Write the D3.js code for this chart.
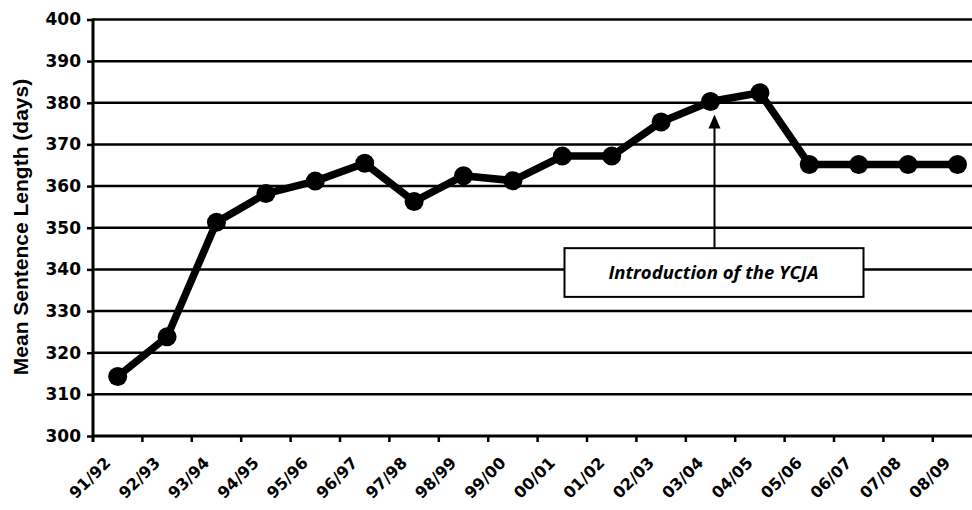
<!DOCTYPE html>
<html>
<head>
<meta charset="utf-8">
<script src="https://cdn.jsdelivr.net/npm/d3@7"></script>
<style>
  body { margin: 0; background: #fff; }
  svg { display: block; }
</style>
</head>
<body>
<div id="chart"></div>
<script>
// data
const years = ["91/92", "92/93", "93/94", "94/95", "95/96", "96/97", "97/98", "98/99", "99/00",
    "00/01", "01/02", "02/03", "03/04", "04/05", "05/06", "06/07", "07/08", "08/09"];
const meanLength = [314.3, 323.8, 351.3, 358.2, 361.2, 365.5, 356.3, 362.5, 361.3,
    367.2, 367.2, 375.4, 380.3, 382.4, 365.2, 365.2, 365.2, 365.2];
const yTicks = [300, 310, 320, 330, 340, 350, 360, 370, 380, 390, 400];
const noteText = "Introduction of the YCJA";
const noteYear = "03/04";

const width = 972;
const height = 510;
const plotLeft = 93;
const plotTop = 19.5;
const plotBottom = 436;
const step = 49.4;

const x = d3.scaleBand()
    .domain(years)
    .range([plotLeft, plotLeft + step * years.length]);
const y = d3.scaleLinear()
    .domain([300, 400])
    .range([plotBottom, plotTop]);

const svg = d3.select("#chart")
    .append("svg")
    .attr("width", width)
    .attr("height", height);

// horizontal gridlines
svg.append("g")
    .selectAll("line")
    .data(yTicks.slice(1))
    .enter()
    .append("line")
    .attr("x1", plotLeft)
    .attr("x2", width)
    .attr("y1", d => y(d))
    .attr("y2", d => y(d))
    .style("stroke", "#000")
    .style("stroke-width", 2.5);

// y axis
const yAxis = d3.axisLeft(y)
    .tickValues(yTicks)
    .tickSize(6)
    .tickPadding(6);
const gy = svg.append("g")
    .attr("transform", `translate(${plotLeft},0)`)
    .call(yAxis);
gy.select(".domain").remove();
gy.selectAll(".tick line").style("stroke", "#000").style("stroke-width", 2.5);
gy.selectAll(".tick text")
    .style("font-family", "'DejaVu Sans', sans-serif")
    .style("font-weight", "bold")
    .style("font-size", "17px")
    .style("fill", "#000");
svg.append("line")
    .attr("x1", plotLeft).attr("x2", plotLeft)
    .attr("y1", plotTop - 1).attr("y2", plotBottom + 6)
    .style("stroke", "#000")
    .style("stroke-width", 3);

// x axis line and ticks at category boundaries
svg.append("line")
    .attr("x1", plotLeft).attr("x2", width)
    .attr("y1", plotBottom).attr("y2", plotBottom)
    .style("stroke", "#000")
    .style("stroke-width", 3);
svg.append("g")
    .selectAll("line")
    .data(years)
    .enter()
    .append("line")
    .attr("x1", d => x(d) + x.bandwidth())
    .attr("x2", d => x(d) + x.bandwidth())
    .attr("y1", plotBottom)
    .attr("y2", plotBottom + 6)
    .style("stroke", "#000")
    .style("stroke-width", 2.5);

// x labels rotated
svg.append("g")
    .selectAll("text")
    .data(years)
    .enter()
    .append("text")
    .attr("transform", d => `translate(${x(d) + x.bandwidth() / 2 - 14},${plotBottom + 20}) rotate(-45)`)
    .attr("text-anchor", "end")
    .attr("dy", "0.7em")
    .style("font-family", "'DejaVu Sans', sans-serif")
    .style("font-weight", "bold")
    .style("font-size", "16px")
    .text(d => d);

// y title
svg.append("text")
    .attr("transform", "translate(28,227) rotate(-90)")
    .attr("text-anchor", "middle")
    .style("font-family", "'Liberation Sans', Arial, sans-serif")
    .style("font-weight", "bold")
    .style("font-size", "21px")
    .text("Mean Sentence Length (days)");

// line and markers
const pts = years.map((d, i) => ({ year: d, value: meanLength[i] }));
const line = d3.line()
    .x(d => x(d.year) + x.bandwidth() / 2)
    .y(d => y(d.value));
svg.append("path")
    .datum(pts)
    .attr("d", line)
    .style("fill", "none")
    .style("stroke", "#000")
    .style("stroke-width", 7.5)
    .style("stroke-linejoin", "round");
svg.append("g")
    .selectAll("circle")
    .data(pts)
    .enter()
    .append("circle")
    .attr("cx", d => x(d.year) + x.bandwidth() / 2)
    .attr("cy", d => y(d.value))
    .attr("r", 9.5)
    .style("fill", "#000");

// annotation: arrow + box
const ax = x(noteYear) + x.bandwidth() / 2 + 4;
const boxTop = y(345.1);
const boxBottom = y(333.4);
const tipY = y(meanLength[years.indexOf(noteYear)]) + 13;
svg.append("line")
    .attr("x1", ax).attr("x2", ax)
    .attr("y1", boxTop).attr("y2", tipY + 10)
    .style("stroke", "#000")
    .style("stroke-width", 2);
svg.append("path")
    .attr("d", `M${ax},${tipY} L${ax - 6},${tipY + 14} L${ax + 6},${tipY + 14} Z`)
    .style("fill", "#000");
svg.append("rect")
    .attr("x", ax - 150)
    .attr("y", boxTop)
    .attr("width", 299)
    .attr("height", boxBottom - boxTop)
    .style("fill", "#fff")
    .style("stroke", "#000")
    .style("stroke-width", 2);
svg.append("text")
    .attr("x", ax - 1)
    .attr("y", (boxTop + boxBottom) / 2)
    .attr("dy", "0.35em")
    .attr("text-anchor", "middle")
    .style("font-family", "'Open Sans', sans-serif")
    .style("font-weight", "bold")
    .style("font-style", "italic")
    .style("font-size", "18.5px")
    .text(noteText);
</script>
</body>
</html>
